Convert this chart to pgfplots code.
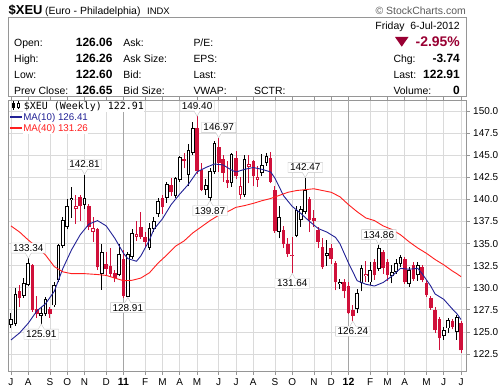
\documentclass[border=0pt]{standalone}
\usepackage{fontspec}
\setmainfont{Liberation Sans}
\newfontfamily\dvm{DejaVu Sans Mono}
\usepackage{pgfplots}
\usepackage{pgfplotstable}
\pgfplotsset{compat=1.18}
\usetikzlibrary{shapes.callouts}

\definecolor{cred}{RGB}{208,16,58}
\definecolor{mared}{RGB}{153,0,51}
\definecolor{navyb}{RGB}{34,34,150}
\definecolor{mared2}{RGB}{255,30,30}
\definecolor{gridc}{RGB}{218,218,218}
\definecolor{yearc}{RGB}{165,165,165}
\definecolor{framec}{RGB}{150,150,150}
\definecolor{hdrgray}{RGB}{90,90,90}

% red candles, close below open (filled)
\pgfplotstableread{
j o h l c
2 129.6 130.3 127.8 128.9
5 132.6 132.7 127.3 127.5
6 127.6 129.1 126.6 127.0
9 127.6 127.8 126.6 127.0
16 140.3 140.5 137.6 139.2
18 139.3 139.5 136.5 136.9
20 136.6 136.8 132.0 132.3
22 132.7 134.0 131.4 132.1
23 132.5 134.5 131.2 131.6
24 131.7 132.0 130.6 131.1
26 133.3 134.3 128.9 129.1
30 136.9 138.6 135.5 135.8
31 135.8 136.3 134.5 135.2
35 140.1 140.5 138.4 139.1
37 141.6 142.4 140.4 140.8
40 144.6 145.2 143.5 144.3
43 148.1 149.40 142.9 143.2
44 143.3 144.1 140.9 141.1
48 145.9 146.97 143.1 144.1
49 144.6 145.0 142.0 143.0
50 142.2 144.3 141.3 141.8
52 144.7 145.5 142.3 142.6
56 144.3 144.5 141.5 142.6
60 144.7 145.4 141.8 142.0
61 141.1 141.5 136.2 136.4
63 136.5 137.0 134.5 134.9
64 135.0 135.6 133.5 133.8
69 140.1 140.3 136.3 137.7
70 137.9 138.8 136.9 137.5
71 136.5 136.9 134.5 135.2
72 134.6 135.6 132.1 132.3
74 134.5 135.0 132.7 133.3
75 132.8 133.0 129.7 130.6
77 130.7 131.0 128.8 129.6
78 130.2 130.6 127.0 127.1
79 127.5 128.0 126.24 126.8
84 132.9 133.3 130.9 131.4
86 134.1 134.3 131.6 132.2
87 132.9 133.2 130.8 131.4
91 133.3 133.5 130.4 130.6
93 132.6 132.9 130.8 131.0
95 132.3 132.6 130.6 130.9
96 130.5 130.9 129.0 129.2
97 128.8 129.1 127.5 127.7
98 127.5 127.8 124.9 125.2
99 126.5 126.7 123.0 124.3
102 126.2 126.5 125.3 125.6
104 126.06 126.26 122.60 122.91
}\redfilled

% red candles, close above open (hollow)
\pgfplotstableread{
j o h l c
15 138.9 140.5 137.2 139.3
19 136.3 138.0 135.2 136.8
29 135.8 137.5 135.3 136.1
53 140.5 142.5 140.0 141.5
55 143.7 145.0 141.8 144.0
57 142.2 143.8 141.4 142.5
65 133.6 135.8 131.64 133.75
82 131.3 133.0 130.7 131.6
}\redhollow

% black candles (hollow)
\pgfplotstableread{
j o h l c
0 125.8 127.1 125.5 126.5
1 125.9 130.0 125.7 129.3
3 129.1 131.1 128.9 130.5
4 130.3 133.34 130.2 132.8
7 126.8 127.8 125.91 127.1
8 127.0 129.0 126.8 128.7
10 128.0 130.7 127.8 130.3
11 130.9 135.0 130.6 134.8
12 134.7 138.0 134.5 137.7
13 136.9 140.0 136.6 139.2
14 139.9 141.4 137.9 140.2
17 139.4 142.81 138.9 140.2
21 131.6 134.9 129.8 134.0
25 131.4 135.0 131.3 133.8
27 129.0 134.0 128.91 133.8
28 133.5 136.6 133.3 136.2
32 134.5 137.3 134.3 136.8
33 136.7 138.0 136.3 137.5
34 138.3 140.2 138.0 139.8
36 140.2 142.0 139.6 141.7
38 140.4 142.5 140.2 142.4
39 142.2 144.9 142.0 144.8
41 142.8 146.3 141.5 145.6
42 145.3 148.8 145.0 148.1
45 141.1 142.3 140.5 141.6
46 140.2 143.5 139.87 143.2
47 143.1 146.6 142.9 146.4
51 141.9 145.3 141.4 145.1
54 140.5 145.0 140.3 144.6
58 143.0 145.1 142.6 143.9
59 144.1 145.2 143.8 144.9
62 136.3 139.3 135.6 138.0
66 135.9 139.3 135.7 138.8
67 137.7 139.3 136.9 138.9
68 138.6 142.47 138.3 141.1
73 133.6 135.4 132.5 133.9
76 130.4 131.0 129.9 130.7
80 127.6 129.9 127.1 129.4
81 130.5 132.6 129.6 132.2
83 130.6 132.9 130.3 132.0
85 132.1 134.86 131.9 134.5
88 131.3 132.6 130.5 131.8
89 131.8 133.3 131.6 132.8
90 132.7 133.7 132.4 133.5
92 130.4 132.3 130.1 132.0
94 131.4 132.9 130.8 132.6
100 124.5 125.6 124.1 125.2
101 125.4 126.6 124.9 126.4
103 125.0 126.9 124.1 126.65
}\blackhollow

\pgfplotstableread{
j v
0 124.1
2 124.9
4 126.0
6 127.4
8 128.2
10 129.6
12 132.2
14 134.3
16 136.0
18 137.2
20 137.6
22 137.0
24 135.6
26 133.9
27 133.3
29 133.0
30 133.6
32 135.4
33 136.6
35 137.8
37 139.4
39 140.6
41 141.7
43 143.1
45 143.6
47 144.0
49 143.9
51 143.3
52 143.1
54 143.4
56 143.6
58 143.4
60 143.1
61 142.4
63 140.4
65 139.2
67 138.4
69 137.5
71 136.7
73 136.3
75 135.7
76 135.0
78 132.8
80 130.8
82 130.4
84 130.2
86 130.6
88 131.3
90 132.2
92 132.1
94 132.2
95 131.6
97 130.2
98 129.3
100 128.7
102 127.6
103 127.1
104 126.41
}\maten

\pgfplotstableread{
j v
0 137.0
2 136.3
4 135.4
6 134.6
8 133.7
10 132.4
12 131.8
14 131.6
17 131.6
20 131.5
22 131.4
24 131.1
26 130.8
28 130.85
30 131.1
32 131.7
34 132.8
36 133.7
38 134.7
40 135.3
42 136.2
44 136.9
46 137.6
48 138.2
50 138.6
52 139.1
54 139.3
56 139.55
58 139.85
60 140.1
62 140.45
64 140.8
66 141.0
68 141.1
70 141.2
72 141.0
74 140.8
76 140.3
78 139.4
80 138.6
82 137.9
84 137.6
86 137.0
88 136.6
90 136.0
92 135.2
94 134.5
96 133.9
98 133.2
100 132.6
102 131.9
103 131.6
104 131.26
}\mafourty

\tikzset{
  callbox/.style={rectangle callout, draw=gray!45, fill=white, inner xsep=2bp, inner ysep=1.5bp,
    callout pointer width=6bp, font=\fontsize{10}{10}\selectfont, text=black},
}

% candle parts drawn as vertical segments (quiver with u=0)
\newcommand\wicks[2]{%
  \addplot[#1, line width=1bp, -, mark=none, forget plot,
    quiver={u=0, v={\thisrow{h}-\thisrow{l}}}]
    table[x=j, y=l]{#2};}
\newcommand\bodies[2]{%
  \addplot[#1, line width=3.6bp, -, mark=none, forget plot,
    quiver={u=0, v={max(abs(\thisrow{c}-\thisrow{o}),0.12)}}]
    table[x=j, y expr={(\thisrow{o}+\thisrow{c})/2-max(abs(\thisrow{c}-\thisrow{o}),0.12)/2}]{#2};}
\newcommand\holes[1]{%
  \addplot[white, line width=1.6bp, -, mark=none, forget plot,
    quiver={u=0, v={max(abs(\thisrow{c}-\thisrow{o})-0.22,0.001)}}]
    table[x=j, y expr={(\thisrow{o}+\thisrow{c})/2-max(abs(\thisrow{c}-\thisrow{o})-0.22,0.001)/2}]{#1};}

\begin{document}
\begin{tikzpicture}
\fill[white] (0,0) rectangle (502bp,388bp);
\useasboundingbox (0,0) rectangle (502bp,388bp);

% header
\begin{scope}[x=1bp,y=1bp]
\draw[framec, line width=1bp] (8.5,370.5) rectangle (466.5,291);
\node[anchor=base west, inner sep=0, font=\fontsize{13}{13}\selectfont\bfseries] at (8.5,374) {\$XEU};
\node[anchor=base west, inner sep=0, font=\fontsize{10.5}{10.5}\selectfont] at (45,374) {(Euro - Philadelphia)};
\node[anchor=base west, inner sep=0, font=\fontsize{9.5}{9.5}\selectfont] at (147,374) {INDX};
\node[anchor=base east, inner sep=0, font=\fontsize{10.5}{10.5}\selectfont, text=hdrgray] at (466,374) {\textcopyright\ StockCharts.com};
\node[anchor=base east, inner sep=0, font=\fontsize{10.5}{10.5}\selectfont] at (460,358.5) {Friday\ \ 6-Jul-2012};
\foreach \t/\yy in {{Open:}/342, {High:}/326, {Low:}/310, {Prev Close:}/294}
  \node[anchor=base west, inner sep=0, font=\fontsize{10.5}{10.5}\selectfont] at (14,\yy) {\t};
\foreach \t/\yy in {126.06/342, 126.26/326, 122.60/310, 126.65/294}
  \node[anchor=base east, inner sep=0, font=\fontsize{12}{12}\selectfont\bfseries] at (112.7,\yy) {\t};
\foreach \t/\yy in {{Ask:}/342, {Ask Size:}/326, {Bid:}/310, {Bid Size:}/294}
  \node[anchor=base west, inner sep=0, font=\fontsize{10.5}{10.5}\selectfont] at (123.3,\yy) {\t};
\node[anchor=base west, inner sep=0, font=\fontsize{10.5}{10.5}\selectfont] at (193.3,342) {P/E:};
\node[anchor=base west, inner sep=0, font=\fontsize{10.5}{10.5}\selectfont] at (193.3,326) {EPS:};
\node[anchor=base west, inner sep=0, font=\fontsize{10.5}{10.5}\selectfont] at (193.3,310) {Last:};
\node[anchor=base west, inner sep=0, font=\fontsize{10.5}{10.5}\selectfont] at (193.3,294) {VWAP:};
\node[anchor=base west, inner sep=0, font=\fontsize{10.5}{10.5}\selectfont] at (254,294) {SCTR:};
\foreach \t/\yy in {{Chg:}/326, {Last:}/310, {Volume:}/294}
  \node[anchor=base west, inner sep=0, font=\fontsize{10.5}{10.5}\selectfont] at (393.3,\yy) {\t};
\foreach \t/\yy in {-3.74/326, 122.91/310, 0/294}
  \node[anchor=base east, inner sep=0, font=\fontsize{12}{12}\selectfont\bfseries] at (460,\yy) {\t};
\fill[mared] (395,351) -- (408.5,351) -- (401.75,341.3) -- cycle;
\node[anchor=base east, inner sep=0, font=\fontsize{14}{14}\selectfont\bfseries, text=mared] at (460,341.3) {-2.95\%};
\end{scope}

\begin{axis}[
  at={(8bp,16.3bp)}, anchor=south west,
  scale only axis, width=458.7bp, height=271.7bp,
  xmin=-0.69, xmax=105.31, ymin=120.51, ymax=151.24,
  axis line style={framec, line width=0.8bp},
  ytick={122.5,125,127.5,130,132.5,135,137.5,140,142.5,145,147.5,150},
  yticklabel pos=right, ytick pos=right,
  yticklabel style={/pgf/number format/fixed, /pgf/number format/fixed zerofill,
    /pgf/number format/precision=1, /pgf/number format/assume math mode=true},
  xtick={0,4,9,13,17,22,31,35,39,43,48,52,56,61,65,70,74,83,87,91,96,100,104},
  xticklabels={J,A,S,O,N,D,F,M,A,M,J,J,A,S,O,N,D,F,M,A,M,J,J},
  extra x ticks={26,78}, extra x tick labels={\textbf{11},\textbf{12}},
  extra x tick style={grid=major, major grid style={yearc, line width=0.8bp},
    ticklabel style={font=\fontsize{10.5}{10.5}\selectfont}},
  grid=major, major grid style={gridc, line width=0.8bp},
  tick align=outside, major tick length=3bp, tick style={framec, line width=0.8bp},
  ticklabel style={font=\fontsize{10}{10}\selectfont, text=black},
]
\wicks{cred}{\redfilled}
\wicks{cred}{\redhollow}
\wicks{black}{\blackhollow}
\bodies{cred}{\redfilled}
\bodies{cred}{\redhollow}
\bodies{black}{\blackhollow}
\holes{\redhollow}
\holes{\blackhollow}
% MA lines
\addplot[navyb, line width=0.9bp, no marks] table[x=j, y=v]{\maten};
\addplot[mared2, line width=0.9bp, no marks] table[x=j, y=v]{\mafourty};
% annotations
\foreach \xx/\yy in {4/133.34, 17/142.81, 43/149.40, 48/146.97, 68/142.47, 85/134.86}{
  \edef\tmp{\noexpand\node[callbox, anchor=south, yshift=5bp, callout absolute pointer={(axis cs:\xx,\yy)}] at (axis cs:\xx,\yy) {\yy};}
  \tmp
}
\foreach \xx/\yy in {7/125.91, 27/128.91, 46/139.87, 65/131.64, 79/126.24}{
  \edef\tmp{\noexpand\node[callbox, anchor=north, yshift=-5bp, callout absolute pointer={(axis cs:\xx,\yy)}] at (axis cs:\xx,\yy) {\yy};}
  \tmp
}
\end{axis}

% legend
\begin{scope}[x=1bp,y=1bp]
\draw[black, line width=0.8] (13.5,286.5) -- (13.5,278);
\fill[black] (12.3,284.5) rectangle (14.7,280);
\draw[black, line width=0.8] (18.5,286.5) -- (18.5,278.5);
\draw[black, line width=0.8, fill=white] (17.3,285) rectangle (19.7,280.5);
\node[anchor=base west, inner sep=0.6bp, fill=white, font=\dvm\fontsize{10}{10}\selectfont] at (23,279) {\$XEU (Weekly) 122.91};
\draw[navyb, line width=2bp] (10,271.3) -- (21.5,271.3);
\node[anchor=base west, inner sep=0.6bp, fill=white, text=navyb, font=\fontsize{9.8}{9.8}\selectfont] at (22.5,268) {MA(10) 126.41};
\draw[mared2, line width=2bp] (10,260.3) -- (21.5,260.3);
\node[anchor=base west, inner sep=0.6bp, fill=white, text=mared2, font=\fontsize{9.8}{9.8}\selectfont] at (22.5,257) {MA(40) 131.26};
\end{scope}
\end{tikzpicture}
\end{document}
